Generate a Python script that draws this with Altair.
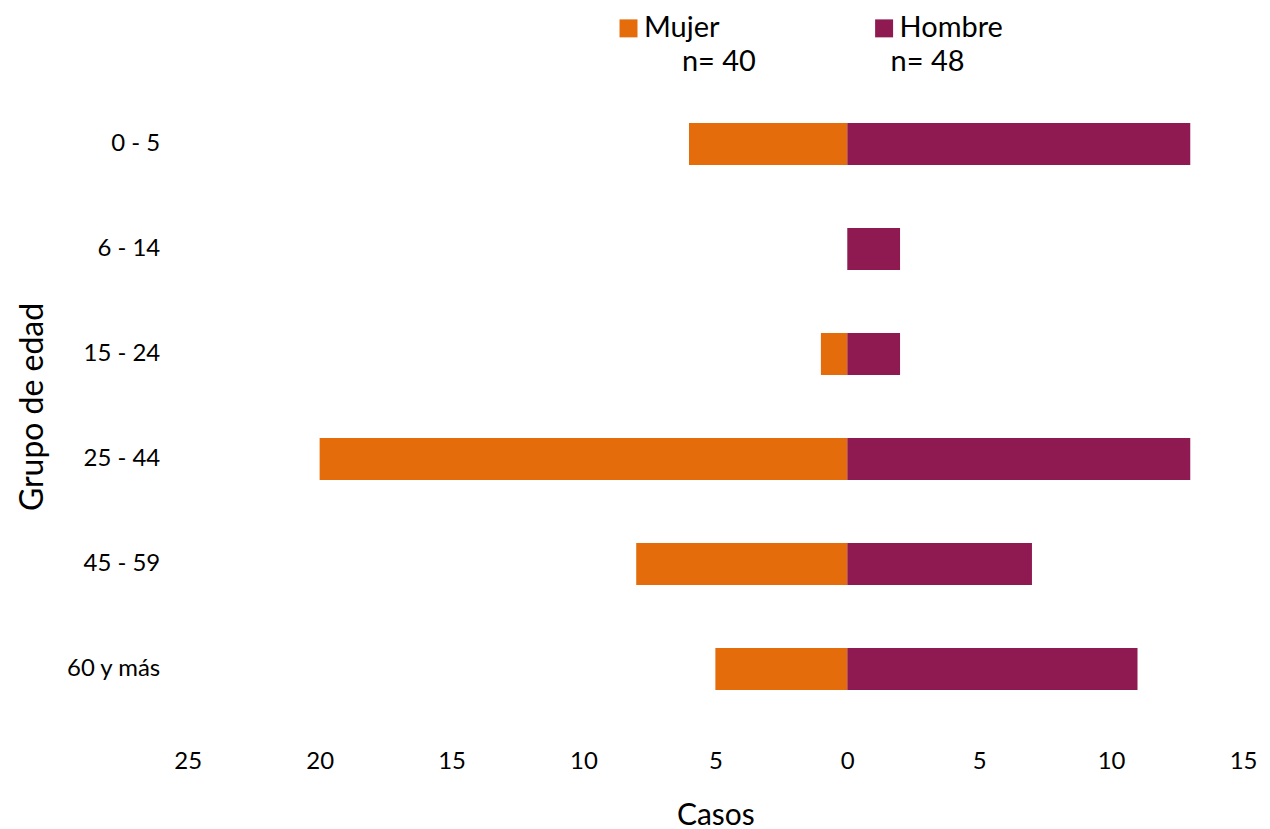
import altair as alt
import pandas as pd

grupos = ["0 - 5", "6 - 14", "15 - 24", "25 - 44", "45 - 59", "60 y más"]
mujer = [6, 0, 1, 20, 8, 5]
hombre = [13, 2, 2, 13, 7, 11]
sexos = ["Mujer", "Hombre"]
colores = ["#E46C0A", "#8E1A51"]
tick_vals = [-25, -20, -15, -10, -5, 0, 5, 10, 15]

rows = []
for g, m, h in zip(grupos, mujer, hombre):
    rows.append({"grupo": g, "sexo": "Mujer", "casos": -m})
    rows.append({"grupo": g, "sexo": "Hombre", "casos": h})
df = pd.DataFrame(rows)

FONT = "Lato"

bars = alt.Chart(df).mark_bar().encode(
    y=alt.Y("grupo:N", sort=grupos,
            scale=alt.Scale(paddingInner=0.6, paddingOuter=0.3),
            axis=alt.Axis(title="Grupo de edad", ticks=False, domain=False,
                          labelFontSize=24, labelPadding=28, titleFontSize=32,
                          titleFontWeight="normal", titlePadding=16,
                          labelColor="#000000", titleColor="#000000")),
    x=alt.X("casos:Q", scale=alt.Scale(domain=[-25, 15], nice=False),
            axis=alt.Axis(title="Casos", values=tick_vals, labelExpr="abs(datum.value)",
                          grid=False, ticks=False, domain=False, labelFlush=False,
                          labelFontSize=24, labelPadding=28, titleFontSize=30,
                          titleFontWeight="normal", titlePadding=27,
                          labelColor="#000000", titleColor="#000000")),
    color=alt.Color("sexo:N", scale=alt.Scale(domain=sexos, range=colores),
                    legend=alt.Legend(title=None, orient="none", direction="horizontal",
                                      legendX=427, legendY=-78, symbolType="square",
                                      symbolSize=324, symbolStrokeWidth=0,
                                      labelFontSize=29, labelOffset=1, labelLimit=300,
                                      columnPadding=150, labelColor="#000000")),
)

tot = pd.DataFrame({
    "texto": ["n= " + str(sum(mujer)), "n= " + str(sum(hombre))],
    "px": [495, 704],
})
ntext = alt.Chart(tot).mark_text(align="left", baseline="middle", fontSize=29,
                                 font=FONT, color="#000000").encode(
    x=alt.X("px:Q", scale=None),
    y=alt.value(-30),
    text="texto:N",
)

chart = alt.layer(bars, ntext).properties(
    width=1057, height=631,
    padding={"left": 8, "top": 5, "right": 5, "bottom": 0},
).configure(font=FONT).configure_view(stroke=None)

chart.save("out.html", embed_options={"renderer": "svg", "actions": False})
